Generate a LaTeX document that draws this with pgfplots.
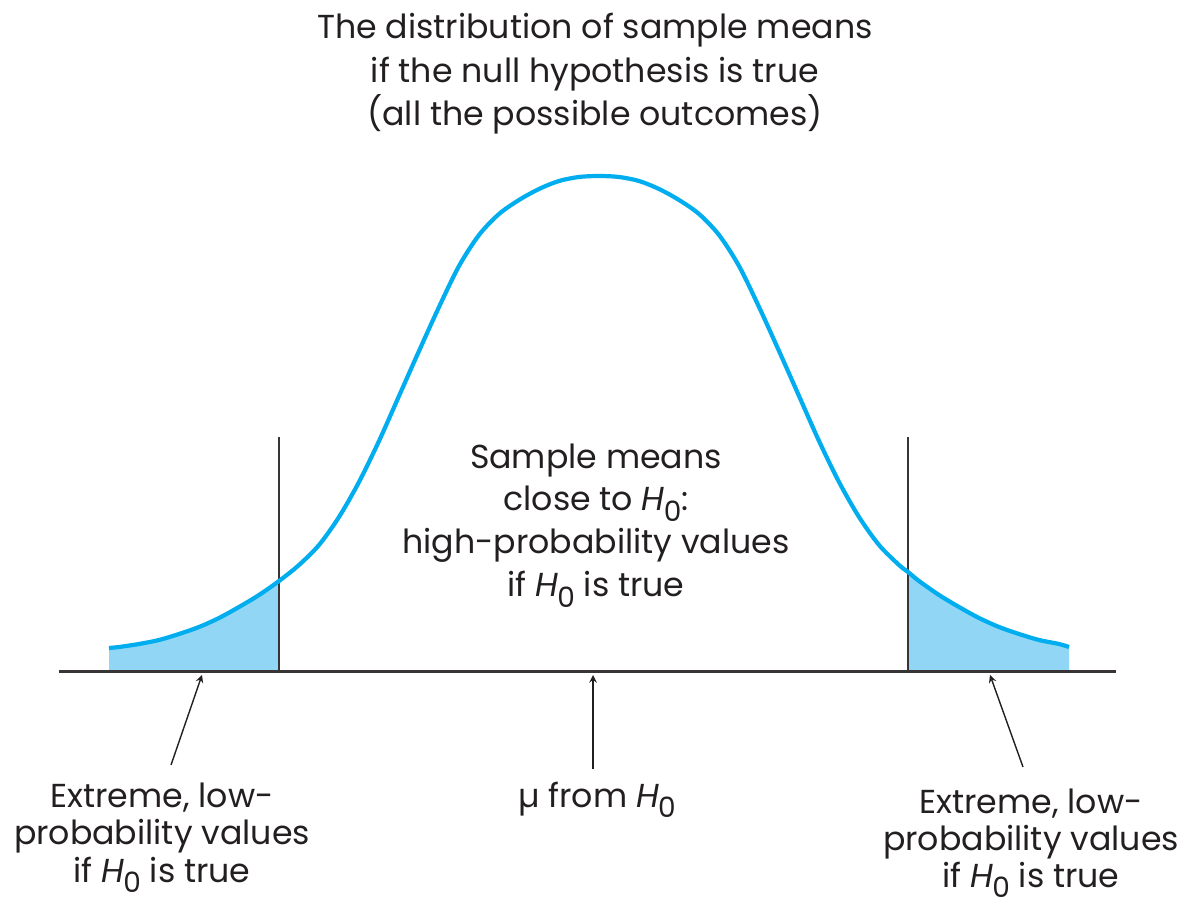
\documentclass[border=0pt]{standalone}
\usepackage{fontspec}
\setmainfont{Poppins}
\usepackage{pgfplots}
\pgfplotsset{compat=1.18}
\definecolor{curve}{RGB}{0,174,239}
\definecolor{tail}{RGB}{145,215,245}
\definecolor{ink}{RGB}{35,31,32}
\newcommand\Hz{\textit{H}\kern-0.03em\raisebox{-0.6ex}{\fontsize{14}{14}\selectfont 0}}
\begin{document}
\begin{tikzpicture}[txt/.style={anchor=base,text=ink,inner sep=0pt,font=\fontsize{16.6}{19}\selectfont}]
\begin{axis}[name=ax,width=596pt,height=452.5pt,scale only axis,
  xmin=0,xmax=1192,ymin=-234,ymax=671,hide axis,clip=false]
% tails
\addplot[fill=tail,draw=none,smooth] table {
x y
109 23
119 24
139 27
159 31
179 37
199 44
219 53
239 64
259 76
279 90
} \closedcycle;
\addplot[fill=tail,draw=none,smooth] table {
x y
908 99
919 90
939 76
959 64
979 53
999 44
1019 37
1039 31
1059 27
1069 24
} \closedcycle;
% baseline and cut-off lines
\addplot[ink!90,line width=1.5pt] coordinates {(59,0) (1116,0)};
\addplot[ink!90,line width=0.9pt] coordinates {(279,0) (279,234)};
\addplot[ink!90,line width=0.9pt] coordinates {(908,0) (908,234)};
% curve
\addplot[curve,line width=2.1pt,smooth] table {
x y
109 23
119 24
139 27
159 31
179 37
199 44
219 53
239 64
259 76
279 90
299 106
319 126
339 154
359 189
379 230
399 275
419 320
439 364
459 405
479 436
499 457
519 471
539 482
559 490
579 494
599 495
619 494
639 490
659 482
679 471
699 457
719 436
739 405
759 364
779 320
799 275
819 230
839 189
859 154
879 126
899 106
908 99
919 90
939 76
959 64
979 53
999 44
1019 37
1039 31
1059 27
1069 24
};
% arrows
\draw[ink,line width=0.7pt,-stealth] (axis cs:171,-94) -- (axis cs:202,-4);
\draw[ink,line width=0.7pt,-stealth] (axis cs:593,-98) -- (axis cs:593,-4);
\draw[ink,line width=0.7pt,-stealth] (axis cs:1023,-96) -- (axis cs:990,-4);
% title
\node[txt] at (axis cs:595,632) {The distribution of sample means};
\node[txt] at (axis cs:595,588) {if the null hypothesis is true};
\node[txt] at (axis cs:595,545) {(all the possible outcomes)};
% middle
\node[txt] at (axis cs:596,202) {Sample means};
\node[txt] at (axis cs:596,160) {close to \Hz:};
\node[txt] at (axis cs:596,117) {high-probability values};
\node[txt] at (axis cs:596,74) {if \Hz{} is true};
% bottom
\node[txt] at (axis cs:162,-136) {Extreme, low-};
\node[txt] at (axis cs:162,-173) {probability values};
\node[txt] at (axis cs:162,-211) {if \Hz{} is true};
\node[txt] at (axis cs:597,-136) {µ from \Hz};
\node[txt] at (axis cs:1031,-142) {Extreme, low-};
\node[txt] at (axis cs:1031,-179) {probability values};
\node[txt] at (axis cs:1031,-216) {if \Hz{} is true};
\end{axis}
\pgfresetboundingbox
\path[use as bounding box] (ax.south west) rectangle (ax.north east);
\end{tikzpicture}
\end{document}
